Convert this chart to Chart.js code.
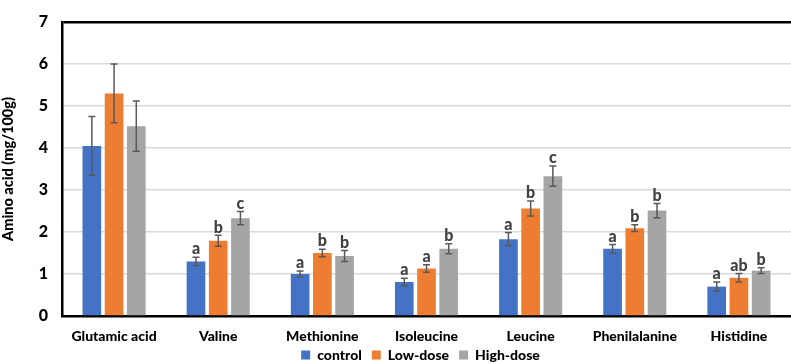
<!DOCTYPE html>
<html>
<head>
<meta charset="utf-8">
<script src="https://cdn.jsdelivr.net/npm/chart.js@4"></script>
<style>
  html, body { margin: 0; padding: 0; background: #fff; }
  #wrap { width: 791px; height: 364px; }
</style>
</head>
<body>
<div id="wrap"><canvas id="chart1"></canvas></div>
<script>
// amino acids
const categories = ["Glutamic acid", "Valine", "Methionine", "Isoleucine", "Leucine", "Phenilalanine", "Histidine"];
const seriesNames = ["control", "Low-dose", "High-dose"];

const controlValues = [4.05, 1.30, 1.00, 0.81, 1.83, 1.60, 0.70];
const lowValues     = [5.30, 1.79, 1.50, 1.13, 2.56, 2.09, 0.91];
const highValues    = [4.52, 2.33, 1.43, 1.60, 3.33, 2.51, 1.08];

const controlErr = [0.70, 0.10, 0.07, 0.09, 0.16, 0.10, 0.11];
const lowErr     = [0.70, 0.13, 0.09, 0.09, 0.18, 0.08, 0.10];
const highErr    = [0.60, 0.16, 0.13, 0.12, 0.24, 0.17, 0.07];

const controlLetters = ["", "a", "a", "a", "a", "a", "a"];
const lowLetters     = ["", "b", "b", "a", "b", "b", "ab"];
const highLetters    = ["", "c", "b", "b", "c", "b", "b"];

const yTicks = [0, 1, 2, 3, 4, 5, 6, 7];

const font = "Lato, 'Liberation Sans', sans-serif";

// error bars + letters drawn from the data through the scales
const errorBarPlugin = {
    id: "errorBars",
    afterDatasetsDraw(chart) {
        const ctx = chart.ctx;
        const y = chart.scales.y;
        chart.data.datasets.forEach((ds, di) => {
            const meta = chart.getDatasetMeta(di);
            meta.data.forEach((bar, i) => {
                const v = ds.data[i];
                const e = ds.errors[i];
                const yt = y.getPixelForValue(v + e);
                const yb = y.getPixelForValue(v - e);
                ctx.save();
                ctx.strokeStyle = "#595959";
                ctx.lineWidth = 1.5;
                ctx.beginPath();
                ctx.moveTo(bar.x, yt); ctx.lineTo(bar.x, yb);
                ctx.moveTo(bar.x - 3.5, yt); ctx.lineTo(bar.x + 3.5, yt);
                ctx.moveTo(bar.x - 3.5, yb); ctx.lineTo(bar.x + 3.5, yb);
                ctx.stroke();
                if (ds.letters[i]) {
                    ctx.fillStyle = "#404040";
                    ctx.font = "900 16px " + font;
                    ctx.textAlign = "center";
                    ctx.textBaseline = "bottom";
                    ctx.fillText(ds.letters[i], bar.x, yt);
                }
                ctx.restore();
            });
        });
    }
};

// nudge the legend up and under the plot area
const legendShift = {
    id: "legendShift",
    afterLayout(chart) {
        const lg = chart.legend;
        lg.top -= 8; lg.bottom -= 8;
        lg.left += 25; lg.right += 25;
    }
};

new Chart("chart1", {
    type: "bar",
    data: {
        labels: categories,
        datasets: [
            { label: seriesNames[0], data: controlValues, errors: controlErr, letters: controlLetters, backgroundColor: "#4472C4" },
            { label: seriesNames[1], data: lowValues, errors: lowErr, letters: lowLetters, backgroundColor: "#ED7D31" },
            { label: seriesNames[2], data: highValues, errors: highErr, letters: highLetters, backgroundColor: "#A5A5A5" }
        ]
    },
    options: {
        responsive: true,
        maintainAspectRatio: false,
        animation: false,
        categoryPercentage: 0.64,
        barPercentage: 0.84,
        layout: { padding: { top: 15, right: 0, left: 0, bottom: -16 } },
        plugins: {
            tooltip: { enabled: false },
            legend: {
                position: "bottom",
                labels: {
                    boxWidth: 9, boxHeight: 9, padding: 10,
                    color: "#000",
                    font: { family: font, size: 14, weight: "900" }
                }
            }
        },
        scales: {
            x: {
                grid: { display: false, drawTicks: false },
                border: { color: "#000", width: 2.5 },
                ticks: { color: "#000", font: { family: font, size: 14, weight: "900" }, padding: 12 },
                afterFit(s) { s.height = 30; }
            },
            y: {
                min: 0, max: 7,
                afterBuildTicks(s) { s.ticks = yTicks.map(v => ({ value: v })); },
                grid: {
                    color: c => c.tick && c.tick.value === 7 ? "#000" : "#d9d9d9",
                    lineWidth: c => c.tick && c.tick.value === 7 ? 2.5 : 1.5,
                    drawTicks: false
                },
                border: { color: "#000", width: 2.5 },
                ticks: { color: "#000", padding: 14, font: { family: font, size: 16, weight: "900", lineHeight: 1 } },
                title: {
                    display: true, text: "Amino acid (mg/100g)", color: "#000",
                    font: { family: font, size: 14.5, weight: "900" }, padding: { top: 0, bottom: 2 }
                },
                afterFit(s) { s.width = 62; }
            }
        }
    },
    plugins: [errorBarPlugin, legendShift]
});
</script>
</body>
</html>
